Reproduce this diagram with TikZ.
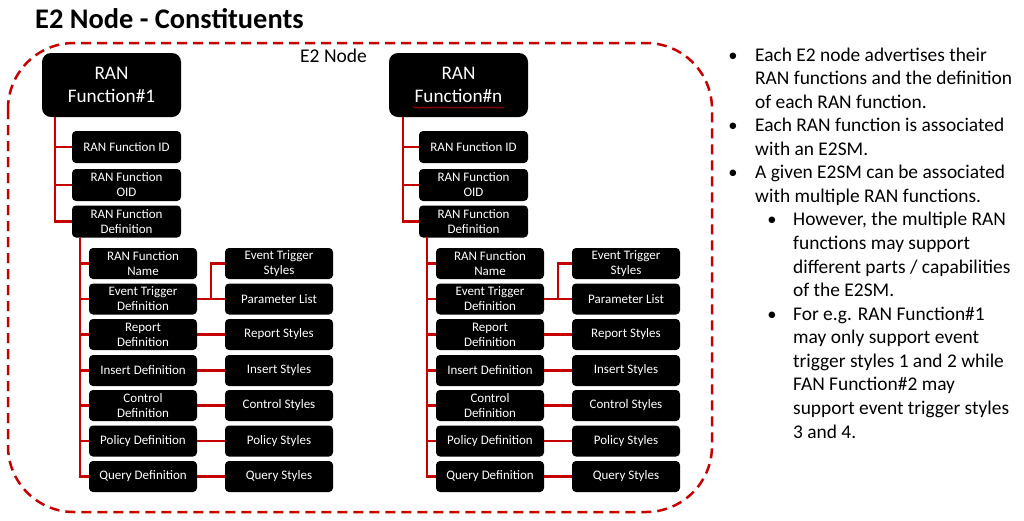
\documentclass[tikz,border=0pt]{standalone}
\usepackage{fontspec}
\setmainfont{Carlito}
\usetikzlibrary{decorations.pathmorphing}
\definecolor{rd}{RGB}{196,0,0}
\tikzset{
  bigbox/.style={fill=black, rounded corners=9pt, text=white, minimum width=139pt, minimum height=64pt, align=center, inner sep=0pt, font=\fontsize{19.2}{23}\selectfont},
  box/.style={fill=black, rounded corners=4pt, text=white, minimum width=109pt, minimum height=32pt, align=center, inner sep=0pt, font=\fontsize{13}{15}\selectfont},
  sbox/.style={box, minimum width=108pt, minimum height=31pt},
  conn/.style={draw=rd, line width=2.7pt},
  btxt/.style={anchor=base west, inner sep=0pt, font=\fontsize{19.4}{22}\selectfont},
  bul/.style={anchor=base, inner sep=0pt, font=\fontsize{18.5}{22}\selectfont}
}
\begin{document}
\begin{tikzpicture}[x=1pt,y=-1pt]
\useasboundingbox (0,0) rectangle (1024,520);
\fill[white] (0,0) rectangle (1024,520);

% title
\node[anchor=base west, inner sep=0pt, font=\fontsize{28.4}{32}\selectfont\bfseries] (title) at (35,28) {E2 Node - Constituents};

% dashed container
\draw[rd, line width=2.5pt, dash pattern=on 10pt off 6pt, rounded corners=66pt] (8,43) rectangle (712,512);
\node[anchor=base west, inner sep=0pt, font=\fontsize{19.5}{22}\selectfont] (e2lab) at (300,62) {E2 Node};

% ===== left tree =====
\node[bigbox] (Fa) at (111.5,85) {RAN\\Function\#1};
\node[box] (IDa) at (126.5,147) {RAN Function ID};
\node[box] (OIDa) at (126.5,185) {RAN Function\\OID};
\node[box] (DEFa) at (126.5,221.5) {RAN Function\\Definition};
\coordinate (ta) at (Fa.south -| 55,0);
\draw[conn] (ta) |- (IDa.west);
\draw[conn] (ta) |- (OIDa.west);
\draw[conn] (ta) |- (DEFa.west);

\node[sbox] (Na) at (143,263.5) {RAN Function\\Name};
\node[sbox] (ETa) at (143,299) {Event Trigger\\Definition};
\node[sbox] (Ra) at (143,334.5) {Report\\Definition};
\node[sbox] (Ia) at (143,370.5) {Insert Definition};
\node[sbox] (Ca) at (143,405.5) {Control\\Definition};
\node[sbox] (Pa) at (143,441) {Policy Definition};
\node[sbox] (Qa) at (143,476.5) {Query Definition};
\coordinate (ua) at (DEFa.south -| 80,0);
\foreach \n in {Na,ETa,Ra,Ia,Ca,Pa,Qa} \draw[conn] (ua) |- (\n.west);

\node[sbox] (ETSa) at (279,263.5) {Event Trigger\\Styles};
\node[sbox] (PLa) at (279,299) {Parameter List};
\node[sbox] (RSa) at (279,334.5) {Report Styles};
\node[sbox] (ISa) at (279,370.5) {Insert Styles};
\node[sbox] (CSa) at (279,405.5) {Control Styles};
\node[sbox] (PSa) at (279,441) {Policy Styles};
\node[sbox] (QSa) at (279,476.5) {Query Styles};
\draw[conn] (ETa.east) -- (PLa.west);
\coordinate (va) at (ETa.east -| 211,0);
\draw[conn] (va) |- (ETSa.west);
\draw[conn] (Ra.east) -- (RSa.west);
\draw[conn] (Ia.east) -- (ISa.west);
\draw[conn] (Ca.east) -- (CSa.west);
\draw[conn] (Pa.east) -- (PSa.west);
\draw[conn] (Qa.east) -- (QSa.west);

% ===== right tree =====
\begin{scope}[xshift=347pt]
\node[bigbox] (Fb) at (111.5,85) {RAN\\Function\#n};
\node[box] (IDb) at (126.5,147) {RAN Function ID};
\node[box] (OIDb) at (126.5,185) {RAN Function\\OID};
\node[box] (DEFb) at (126.5,221.5) {RAN Function\\Definition};
\coordinate (tb) at (56,117);
\draw[conn] (tb) |- (IDb.west);
\draw[conn] (tb) |- (OIDb.west);
\draw[conn] (tb) |- (DEFb.west);

\node[sbox] (Nb) at (143,263.5) {RAN Function\\Name};
\node[sbox] (ETb) at (143,299) {Event Trigger\\Definition};
\node[sbox] (Rb) at (143,334.5) {Report\\Definition};
\node[sbox] (Ib) at (143,370.5) {Insert Definition};
\node[sbox] (Cb) at (143,405.5) {Control\\Definition};
\node[sbox] (Pb) at (143,441) {Policy Definition};
\node[sbox] (Qb) at (143,476.5) {Query Definition};
\coordinate (ub) at (80,237);
\foreach \n in {Nb,ETb,Rb,Ib,Cb,Pb,Qb} \draw[conn] (ub) |- (\n.west);

\node[sbox] (ETSb) at (279,263.5) {Event Trigger\\Styles};
\node[sbox] (PLb) at (279,299) {Parameter List};
\node[sbox] (RSb) at (279,334.5) {Report Styles};
\node[sbox] (ISb) at (279,370.5) {Insert Styles};
\node[sbox] (CSb) at (279,405.5) {Control Styles};
\node[sbox] (PSb) at (279,441) {Policy Styles};
\node[sbox] (QSb) at (279,476.5) {Query Styles};
\draw[conn] (ETb.east) -- (PLb.west);
\coordinate (vb) at (211,299);
\draw[conn] (vb) |- (ETSb.west);
\draw[conn] (Rb.east) -- (RSb.west);
\draw[conn] (Ib.east) -- (ISb.west);
\draw[conn] (Cb.east) -- (CSb.west);
\draw[conn] (Pb.east) -- (PSb.west);
\draw[conn] (Qb.east) -- (QSb.west);
\coordinate (sq1) at (66,107.5);
\coordinate (sq2) at (157,107.5);
\draw[rd, line width=0.6pt, decorate, decoration={snake, amplitude=0.7pt, segment length=3pt}] (sq1) -- (sq2);
\end{scope}

% ===== bullets =====
\node[bul] (b1) at (733,61) {•};
\node[bul] (b2) at (733,131.7) {•};
\node[bul] (b3) at (733,178.8) {•};
\node[bul] (b4) at (772,225.9) {•};
\node[bul] (b5) at (772,320.2) {•};
\node[btxt] (l1) at (755,61) {Each E2 node advertises their};
\node[btxt] (l2) at (755,84.6) {RAN functions and the definition};
\node[btxt] (l3) at (755,108.1) {of each RAN function.};
\node[btxt] (l4) at (755,131.7) {Each RAN function is associated};
\node[btxt] (l5) at (755,155.2) {with an E2SM.};
\node[btxt] (l6) at (755,178.8) {A given E2SM can be associated};
\node[btxt] (l7) at (755,202.4) {with multiple RAN functions.};
\node[btxt] (l8) at (793,225.9) {However, the multiple RAN};
\node[btxt] (l9) at (793,249.5) {functions may support};
\node[btxt] (l10) at (793,273) {different parts / capabilities};
\node[btxt] (l11) at (793,296.6) {of the E2SM.};
\node[btxt] (l12) at (793,320.2) {For e.g. RAN Function\#1};
\node[btxt] (l13) at (793,343.7) {may only support event};
\node[btxt] (l14) at (793,367.3) {trigger styles 1 and 2 while};
\node[btxt] (l15) at (793,390.8) {FAN Function\#2 may};
\node[btxt] (l16) at (793,414.4) {support event trigger styles};
\node[btxt] (l17) at (793,438) {3 and 4.};
\end{tikzpicture}
\end{document}
